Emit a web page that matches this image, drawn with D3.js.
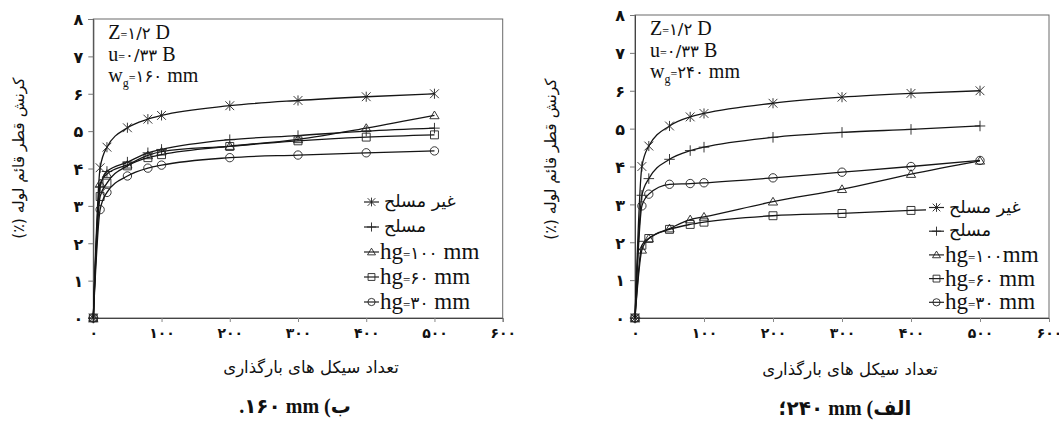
<!DOCTYPE html>
<html><head><meta charset="utf-8">
<script src="https://cdn.jsdelivr.net/npm/d3@7"></script>
<style>html,body{margin:0;padding:0;background:#fff}svg{display:block}</style>
</head><body><svg id="c" width="1059" height="422"></svg>
<script>
// ---------- data ----------
const cycles = [0, 10, 20, 50, 80, 100, 200, 300, 400, 500];
const yTickValues = [0, 1, 2, 3, 4, 5, 6, 7, 8];
const yTickLabels = ["۰","۱","۲","۳","۴","۵","۶","۷","۸"];
const xTickValues = [0, 100, 200, 300, 400, 500, 600];
const xTickLabels = ["۰","۱۰۰","۲۰۰","۳۰۰","۴۰۰","۵۰۰","۶۰۰"];
const markerTypes = ["star", "plus", "triangle", "square", "circle"];

// (b) wg = 160 mm
const wg160_unreinforced = [0, 4.02, 4.57, 5.09, 5.32, 5.42, 5.68, 5.82, 5.92, 6.00];
const wg160_reinforced   = [0, 3.50, 3.92, 4.17, 4.42, 4.51, 4.77, 4.88, 5.00, 5.08];
const wg160_hg100        = [0, 3.60, 3.85, 4.10, 4.35, 4.45, 4.60, 4.78, 5.08, 5.42];
const wg160_hg60         = [0, 3.25, 3.61, 4.07, 4.29, 4.37, 4.59, 4.74, 4.84, 4.90];
const wg160_hg30         = [0, 2.90, 3.36, 3.80, 4.01, 4.09, 4.29, 4.36, 4.42, 4.47];
const legend160 = ["غیر مسلح", "مسلح", "hg=۱۰۰ mm", "hg=۶۰ mm", "hg=۳۰ mm"];

// (a) wg = 240 mm
const wg240_unreinforced = [0, 4.00, 4.54, 5.07, 5.31, 5.40, 5.67, 5.83, 5.93, 6.00];
const wg240_reinforced   = [0, 3.24, 3.68, 4.19, 4.42, 4.51, 4.77, 4.90, 4.98, 5.07];
const wg240_hg100        = [0, 1.80, 2.10, 2.36, 2.60, 2.67, 3.07, 3.40, 3.80, 4.15];
const wg240_hg60         = [0, 1.92, 2.10, 2.34, 2.47, 2.53, 2.70, 2.76, 2.84, 2.90];
const wg240_hg30         = [0, 2.96, 3.27, 3.53, 3.55, 3.57, 3.70, 3.85, 4.00, 4.16];
const legend240 = ["غیر مسلح", "مسلح", "hg=۱۰۰mm", "hg=۶۰ mm", "hg=۳۰ mm"];

const yAxisTitle = "کرنش قطر قائم لوله (٪)";
const xAxisTitle = "تعداد سیکل های بارگذاری";

// ---------- drawing ----------
const svg = d3.select("#c");
svg.append("rect").attr("width", 1059).attr("height", 422).attr("fill", "#fff");
const SERIF = "Liberation Serif, DejaVu Sans, serif";
const ARAB = "DejaVu Sans, sans-serif";

function markerPath(type, h) {
  switch (type) {
    case "star": return `M${-h},${-h}L${h},${h}M${-h},${h}L${h},${-h}M0,${-h*1.15}L0,${h*1.15}`;
    case "plus": return `M${-h*1.2},0L${h*1.2},0M0,${-h*1.2}L0,${h*1.2}`;
    case "triangle": return `M0,${-h}L${h*1.05},${h*0.75}L${-h*1.05},${h*0.75}Z`;
    case "square": return `M${-h*0.9},${-h*0.9}H${h*0.9}V${h*0.9}H${-h*0.9}Z`;
    case "circle": return d3.arc()({innerRadius:0, outerRadius:h*0.95, startAngle:0, endAngle:2*Math.PI});
  }
}

function rich(g, x, y, parts, anchor) {
  const t = g.append("text").attr("x", x).attr("y", y).attr("font-family", SERIF)
    .attr("fill", "#111").attr("text-anchor", anchor || "start");
  parts.forEach(p => {
    const ts = t.append("tspan").attr("font-size", p[1]).text(p[0]);
    if (p[2]) ts.attr("dy", p[2]);
    if (p[3]) ts.attr("font-family", p[3]);
  });
  return t;
}

function hgParts(label, big) {
  const m = label.match(/^hg=([^\s m]+)(\s?)mm$/);
  return [["hg", big], ["=", 13], [m[1], 17, null, ARAB], [m[2] + "mm", big]];
}

function drawChart(o) {
  const g = svg.append("g");
  const x = d3.scaleLinear().domain([0, 600]).range([o.x0, o.x1]);
  const y = d3.scaleLinear().domain([0, 8]).range([o.yb, o.yt]);

  g.append("rect").attr("x", o.x0).attr("y", o.yt).attr("width", o.x1 - o.x0)
    .attr("height", o.yb - o.yt).attr("fill", "none").attr("stroke", "#6a6a6a").attr("stroke-width", 1);

  const ya = g.append("g").attr("transform", `translate(${o.x0},0)`)
    .call(d3.axisLeft(y).tickValues(yTickValues).tickSize(5)
      .tickFormat((d, i) => yTickLabels[i]));
  ya.select(".domain").attr("stroke", "#444");
  ya.selectAll(".tick line").attr("stroke", "#777");
  ya.selectAll(".tick text").attr("x", -15).attr("dy", "0.36em").attr("text-anchor", "middle")
    .attr("font-family", ARAB).attr("font-size", 16).attr("font-weight", "bold").attr("fill", "#111");

  const xa = g.append("g").attr("transform", `translate(0,${o.yb})`)
    .call(d3.axisBottom(x).tickValues(xTickValues).tickSize(4)
      .tickFormat((d, i) => xTickLabels[i]));
  xa.select(".domain").attr("stroke", "#444");
  xa.selectAll(".tick line").attr("stroke", "#888");
  xa.selectAll(".tick text").attr("y", 20).attr("dy", 0)
    .attr("font-family", ARAB).attr("font-size", 14).attr("font-weight", "bold").attr("fill", "#111");

  const line = d3.line().x((d, i) => x(cycles[i])).y(d => y(d)).curve(d3.curveMonotoneX);
  o.series.forEach((s, k) => {
    g.append("path").attr("d", line(s)).attr("fill", "none").attr("stroke", "#151515").attr("stroke-width", 1.3);
    g.selectAll(null).data(s).enter().append("path")
      .attr("transform", (d, i) => `translate(${x(cycles[i])},${y(d)})`)
      .attr("d", markerPath(markerTypes[k], 4.4))
      .attr("fill", "none").attr("stroke", "#222").attr("stroke-width", 0.9);
  });

  const lg = g.append("g");
  lg.append("rect").attr("x", o.lx - 3).attr("y", o.ly - 14).attr("width", o.lw)
    .attr("height", o.lstep * 4 + 28).attr("fill", "#fff");
  o.legend.forEach((name, k) => {
    const cy = o.ly + k * o.lstep;
    lg.append("line").attr("x1", o.lx).attr("x2", o.lx + 15).attr("y1", cy).attr("y2", cy)
      .attr("stroke", "#222").attr("stroke-width", 1.2);
    lg.append("path").attr("transform", `translate(${o.lx + 7.5},${cy})`)
      .attr("d", markerPath(markerTypes[k], 3.8)).attr("fill", "none").attr("stroke", "#222").attr("stroke-width", 0.9);
    if (name.startsWith("hg")) {
      rich(lg, o.lx + 16, cy + 7, hgParts(name, 23));
    } else {
      lg.append("text").attr("x", o.lx + 20).attr("y", cy + 5).attr("font-family", ARAB)
        .attr("font-size", 17.5).attr("fill", "#111").text(name);
    }
  });

  const ax = o.x0 + 15, ay = o.yt + 20;
  rich(g, ax, ay, [["Z", 20], ["=", 12], ["۱/۲", 16.5, null, ARAB], [" D", 20]]);
  rich(g, ax, ay + 22, [["u", 20], ["=", 12], ["۰/۳۳", 16.5, null, ARAB], [" B", 20]]);
  rich(g, ax, ay + 43, [["w", 20], ["g", 12, 5], ["=", 12, -5], [o.wg, 16.5, null, ARAB], [" mm", 20]]);

  g.append("text").attr("transform", `translate(${o.ytx},${o.yty}) rotate(-90)`)
    .attr("text-anchor", "middle").attr("direction", "rtl").attr("font-family", ARAB)
    .attr("font-size", 15.5).attr("fill", "#111").text(yAxisTitle);
  g.append("text").attr("x", o.xtx).attr("y", o.xty).attr("text-anchor", "middle")
    .attr("font-family", ARAB).attr("font-size", 16.5).attr("fill", "#111").text(xAxisTitle);

  g.append("text").attr("x", o.cx).attr("y", o.cy).attr("text-anchor", "middle")
    .attr("font-family", SERIF).attr("font-weight", "bold").attr("font-size", 20).attr("fill", "#111")
    .text(o.caption);
}

drawChart({
  x0: 93.3, x1: 502.7, yt: 19, yb: 318,
  series: [wg160_unreinforced, wg160_reinforced, wg160_hg100, wg160_hg60, wg160_hg30],
  legend: legend160, lx: 364, ly: 202, lstep: 25, lw: 128,
  wg: "۱۶۰",
  ytx: 24, yty: 158, xtx: 311, xty: 373,
  cx: 295, cy: 413, caption: ".۱۶۰ mm (ب"
});

drawChart({
  x0: 635, x1: 1049, yt: 15, yb: 318,
  series: [wg240_unreinforced, wg240_reinforced, wg240_hg100, wg240_hg60, wg240_hg30],
  legend: legend240, lx: 929, ly: 207.5, lstep: 23.7, lw: 118,
  wg: "۲۴۰",
  ytx: 556, yty: 159, xtx: 850, xty: 375,
  cx: 845, cy: 415, caption: "؛\u200E۲۴۰ mm (الف"
});
</script>
</body></html>
